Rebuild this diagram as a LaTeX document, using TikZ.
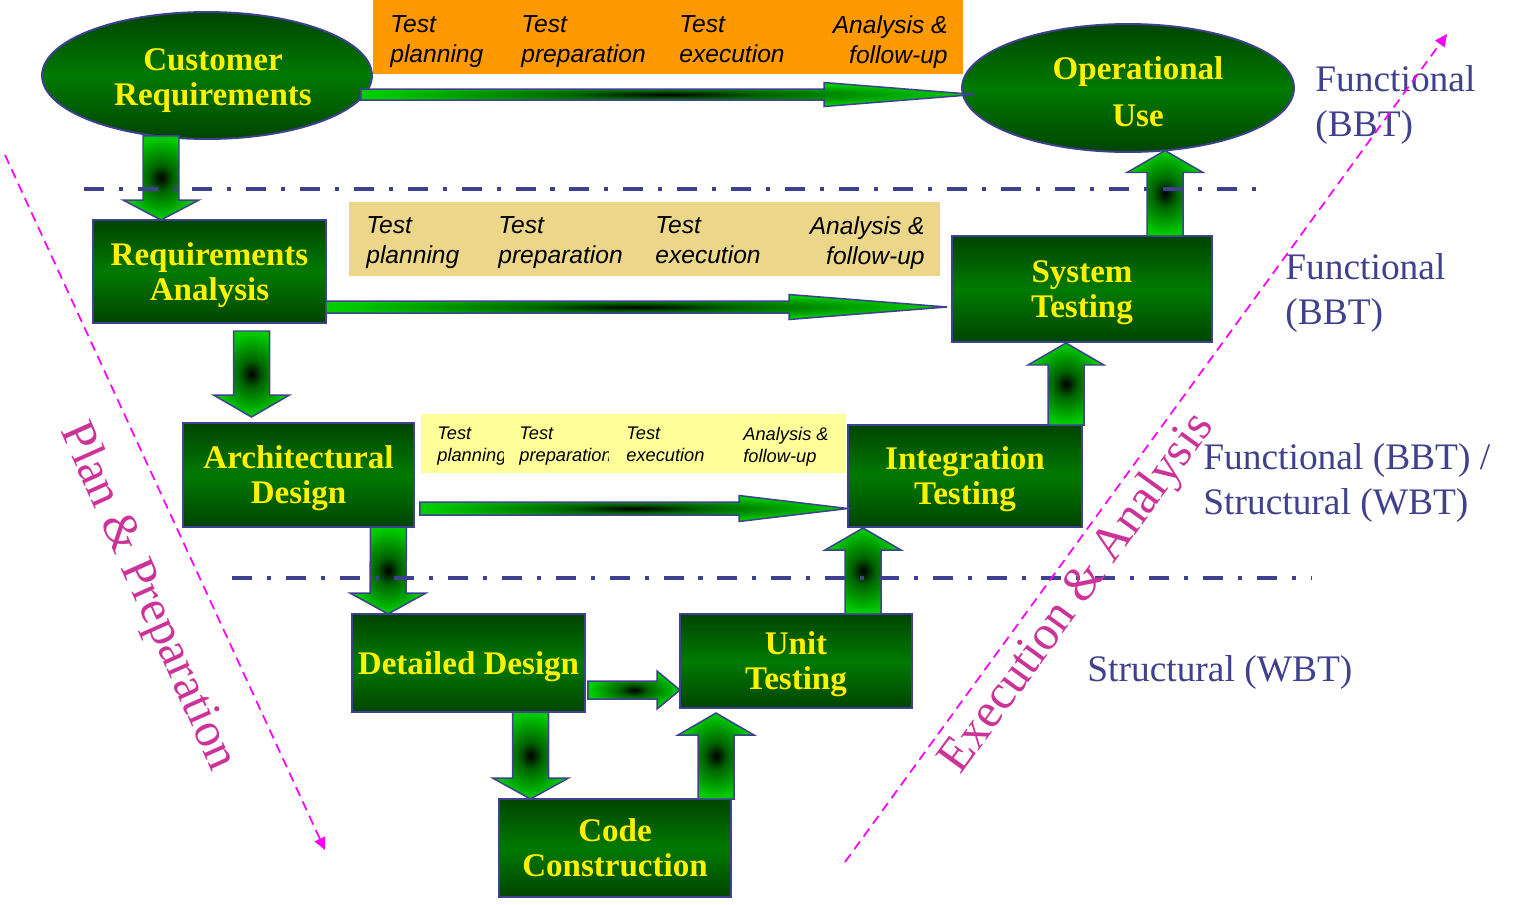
\documentclass[tikz,border=0pt]{standalone}
\usepackage{fontspec}
\setmainfont{Liberation Serif}
\newfontfamily\arialfont{Liberation Sans}
\usetikzlibrary{shapes.geometric,arrows.meta,calc}

\definecolor{boxdark}{RGB}{0,68,0}
\definecolor{boxmid}{RGB}{0,122,0}
\definecolor{arrgreen}{RGB}{0,204,0}
\definecolor{arrdark}{RGB}{0,100,0}
\definecolor{edgeblue}{RGB}{64,64,144}
\definecolor{lblblue}{RGB}{64,64,140}
\definecolor{phasepink}{RGB}{204,51,153}
\definecolor{phaseline}{RGB}{255,0,255}
\definecolor{testorange}{RGB}{255,153,0}
\definecolor{testtan}{RGB}{235,214,138}
\definecolor{testyellow}{RGB}{255,255,153}

\pgfdeclareradialshading{arrowglow}{\pgfpoint{0bp}{0bp}}{color(0bp)=(black); color(8bp)=(arrdark); color(24bp)=(arrgreen); color(50bp)=(arrgreen)}

% setas de bloco: inicio, ponta, (altura da cabeca com sinal)
\newcommand{\vblock}[3]{\draw[blockarrow] ($#1+(-18,0)$) -- ($#2+(-18,#3)$) -- ($#2+(-38,#3)$) -- ($#2$) -- ($#2+(38,#3)$) -- ($#2+(18,#3)$) -- ($#1+(18,0)$) -- cycle;}
% inicio, ponta, meia haste, meia cabeca, comprimento da cabeca
\newcommand{\hblock}[5]{\draw[blockarrow] ($#1+(0,-#3)$) -- ($#2+(-#5,-#3)$) -- ($#2+(-#5,-#4)$) -- ($#2$) -- ($#2+(-#5,#4)$) -- ($#2+(-#5,#3)$) -- ($#1+(0,#3)$) -- cycle;}

\begin{document}
\begin{tikzpicture}[x=0.02cm, y=-0.02cm,
    stagetxt/.style={text=yellow, font=\fontsize{18.8}{19.9}\selectfont\bfseries, align=center, inner sep=0pt},
    stage/.style={stagetxt, draw=edgeblue, line width=1.1pt, top color=boxdark, bottom color=boxdark, middle color=boxmid, outer sep=0pt},
    stagebox/.style={stage, rectangle, text depth=0pt},
    stageoval/.style={stage, ellipse},
    blockarrow/.style={draw=edgeblue, line width=0.85pt, shading=arrowglow},
    testbox/.style={rectangle, anchor=north west, inner sep=0pt, outer sep=0pt},
    testtxt/.style={font=\arialfont\itshape\fontsize{14}{17}\selectfont, inner sep=0pt, align=left, anchor=north west},
    smalltxt/.style={testtxt, font=\arialfont\itshape\fontsize{10.4}{12.5}\selectfont},
    leveltxt/.style={font=\fontsize{21.3}{25.6}\selectfont, text=lblblue, inner sep=0pt, align=left, anchor=north west},
    phasetxt/.style={font=\fontsize{27.8}{30}\selectfont, text=phasepink, inner sep=0pt},
    phasearrow/.style={phaseline, line width=1pt, dash pattern=on 5.5pt off 3.5pt, -{Triangle[length=7pt,width=6.5pt]}},
    levelline/.style={edgeblue, line width=2.3pt, dash pattern=on 11.4pt off 8.5pt on 2.3pt off 8.5pt}]
    \useasboundingbox (0,0) rectangle (1523,904);

    % Faixas de teste
    \node[testbox, fill=testorange, minimum width=11.8cm, minimum height=1.48cm] (orange) at (373,0) {};
    \node[testbox, fill=testtan, minimum width=11.82cm, minimum height=1.48cm] (tan) at (349,202) {};
    \node[testbox, fill=testyellow, minimum width=8.5cm, minimum height=1.18cm] (yellow) at (421,414) {};

    \node[testtxt] (o1) at (390,15) {Test\\planning};
    \node[testtxt] (o2) at (521,15) {Test\\preparation};
    \node[testtxt] (o3) at (679,15) {Test\\execution};
    \node[testtxt, align=right, anchor=north east] (o4) at (948,15) {Analysis \&\\follow-up};

    \node[testtxt] (t1) at (366,216) {Test\\planning};
    \node[testtxt] (t2) at (498,216) {Test\\preparation};
    \node[testtxt] (t3) at (655,216) {Test\\execution};
    \node[testtxt, align=right, anchor=north east] (t4) at (925,216) {Analysis \&\\follow-up};

    \begin{scope}
        \clip (421,414) rectangle (503,473);
        \node[smalltxt] (y1) at (437,427) {Test\\planning};
    \end{scope}
    \begin{scope}
        \clip (505,414) rectangle (608,473);
        \node[smalltxt] (y2) at (519,427) {Test\\preparation};
    \end{scope}
    \node[smalltxt] (y3) at (626,427) {Test\\execution};
    \node[smalltxt] (y4) at (743,427) {Analysis \&\\follow-up};

    % Etapas
    \node[stageoval, minimum width=6.6cm, minimum height=2.54cm,
        label={[stagetxt, xshift=0.12cm, yshift=-0.1cm]center:Customer\\Requirements}] (cr) at (207,75.5) {};
    \node[stageoval, minimum width=6.64cm, minimum height=2.56cm,
        label={[stagetxt, xshift=0.2cm, yshift=-0.08cm]center:Operational\\[6.8pt]Use}] (ou) at (1128,88) {};
    \node[stagebox, minimum width=4.66cm, minimum height=2.06cm] (ra) at (209.5,271.5) {Requirements\\Analysis};
    \node[stagebox, minimum width=5.2cm, minimum height=2.12cm] (st) at (1082,289) {System\\Testing};
    \node[stagebox, minimum width=4.62cm, minimum height=2.08cm] (ad) at (298.5,475) {Architectural\\Design};
    \node[stagebox, minimum width=4.68cm, minimum height=2.04cm] (it) at (965,476) {Integration\\Testing};
    \node[stagebox, minimum width=4.66cm, minimum height=1.96cm] (dd) at (468.5,663) {Detailed Design};
    \node[stagebox, minimum width=4.64cm, minimum height=1.88cm] (ut) at (796,661) {Unit\\Testing};
    \node[stagebox, minimum width=4.64cm, minimum height=1.96cm] (cc) at (615,848) {Code\\Construction};

    % Setas horizontais
    \hblock{(cr.east)+(-11,19)}{(ou.west)+(13,6.5)}{5.5}{12}{151}
    \hblock{(ra.east)+(0,35.5)}{(st.west)+(-5,18)}{6}{12.5}{158}
    \hblock{(ad.east)+(6,33.5)}{(it.west)+(0,32.5)}{6.5}{13}{109}
    \hblock{(dd.east)+(3,27)}{(ut.west)+(0,29)}{9}{19}{23}

    % Setas verticais (descendo)
    \vblock{(cr.south)+(-46,-3)}{(ra.north)+(-48.5,0)}{-20}
    \vblock{(ra.south)+(42,8)}{(ad.north)+(-47,-6)}{-22}
    \vblock{(ad.south)+(90,0)}{(dd.north)+(-80.5,0)}{-21}
    \vblock{(dd.south)+(62,0)}{(cc.north)+(-84.5,0)}{-21}
    % (subindo)
    \vblock{(cc.north)+(101,0)}{(ut.south)+(-80,5)}{22}
    \vblock{(ut.north)+(67,0)}{(it.south)+(-102,1)}{22}
    \vblock{(it.north)+(101,0)}{(st.south)+(-16,1)}{22}
    \vblock{(st.north)+(83,0)}{(ou.south)+(37,-1.5)}{22}

    % Linhas de nivel
    \draw[levelline] (84,189) -- (1262,189);
    \draw[levelline] (232,578) -- (1312,578);

    % Rotulos de nivel
    \node[leveltxt] (lv1) at (1315,65) {Functional\\(BBT)};
    \node[leveltxt] (lv2) at (1285,253) {Functional\\(BBT)};
    \node[leveltxt] (lv3) at (1203,443) {Functional (BBT) /\\Structural (WBT)};
    \node[leveltxt] (lv4) at (1087,655) {Structural (WBT)};

    % Fases
    \coordinate (planstart) at (5,155);
    \coordinate (planend) at (325,850);
    \coordinate (execstart) at (845,862);
    \coordinate (execend) at (1447,34);
    \draw[phasearrow] (planstart) -- (planend);
    \draw[phasearrow] (execstart) -- (execend);
    \node[phasetxt, rotate=-66] (plan) at (147,597) {Plan \& Preparation};
    \node[phasetxt, rotate=54] (exec) at (1078,594) {Execution \& Analysis};
\end{tikzpicture}
\end{document}
